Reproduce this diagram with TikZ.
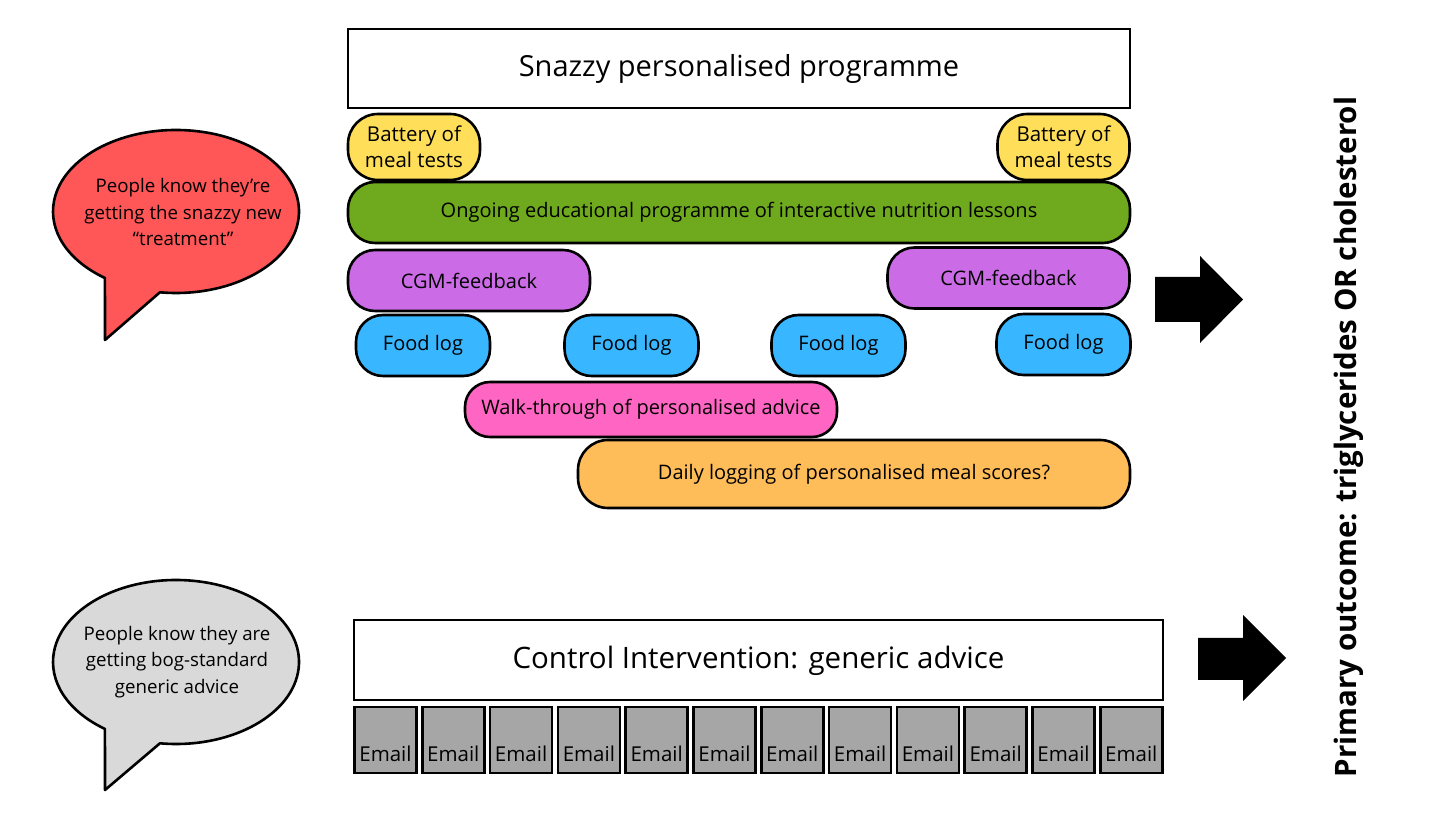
\documentclass[tikz,border=0pt]{standalone}
\usepackage{fontspec}
\setmainfont{Open Sans}
\usepackage{tikz}
\usetikzlibrary{positioning}
\definecolor{TalkRed}{HTML}{FF5757}
\definecolor{TalkGrey}{HTML}{D9D9D9}
\definecolor{TestYellow}{HTML}{FFDE59}
\definecolor{LessonGreen}{HTML}{6FAA1E}
\definecolor{CgmPurple}{HTML}{CB6CE6}
\definecolor{LogBlue}{HTML}{38B6FF}
\definecolor{AdvicePink}{HTML}{FF66C4}
\definecolor{ScoreOrange}{HTML}{FFBD59}
\definecolor{MailGrey}{HTML}{A6A6A6}

\begin{document}
\begin{tikzpicture}[x=1pt,y=1pt,
  pill/.style={draw=black,line width=2.6pt,rounded corners=27pt,minimum height=61pt,inner sep=0pt,align=center,font=\fontsize{20}{26}\selectfont},
  tests/.style={pill,fill=TestYellow,minimum width=132pt,minimum height=66pt,rounded corners=30pt,font=\fontsize{20.5}{26}\selectfont},
  lessons/.style={pill,fill=LessonGreen,minimum width=782pt},
  cgm/.style={pill,fill=CgmPurple,minimum width=242pt},
  foodlog/.style={pill,fill=LogBlue,minimum width=134pt},
  banner/.style={draw=black,line width=2.2pt,fill=white,inner sep=0pt,text height=23pt,text depth=6pt,font=\fontsize{29.5}{34}\selectfont},
  mailbox/.style={draw=black,line width=2.6pt,fill=MailGrey,minimum width=62pt,inner sep=0pt,text height=55pt,text depth=11pt,font=\fontsize{20.5}{24}\selectfont},
  bubble/.style={draw=black,line width=2.6pt,line join=round},
  saying/.style={align=center,font=\fontsize{18.7}{26.5}\selectfont},
  bigarrow/.style={fill=black}
]
  \useasboundingbox (0,0) rectangle (1456,819);

  % speech bubbles
  \coordinate (redc) at (176,607.5);
  \path[bubble,fill=TalkRed] ([shift={(262.5:123 and 81.5)}]redc)
    arc[start angle=262.5,end angle=594.7,x radius=123,y radius=81.5] -- (105,479) -- cycle;
  \node[saying] (knowsnew) at (183,607) {People know they're\\getting the snazzy new\\``treatment''};
  \coordinate (greyc) at (176,157);
  \path[bubble,fill=TalkGrey] ([shift={(262.5:123 and 82)}]greyc)
    arc[start angle=262.5,end angle=594.7,x radius=123,y radius=82] -- (105,29) -- cycle;
  \node[saying] (knowsgeneric) at (177,157) {People know they are\\getting bog-standard\\generic advice};

  % personalised arm
  \node[banner,minimum width=782pt,minimum height=79pt,font=\fontsize{29}{34}\selectfont] (snazzy) at (739,750.5) {Snazzy personalised programme};
  \node[tests] (testsL) at (414,672) {Battery of\\meal tests};
  \node[tests] (testsR) at (1063.5,672) {Battery of\\meal tests};
  \node[lessons] (lessons) at (739,606.5) {Ongoing educational programme of interactive nutrition lessons};
  \node[cgm] (cgmL) at (469,538.5) {CGM-feedback};
  \node[cgm] (cgmR) at (1008.5,541) {CGM-feedback};
  \node[foodlog] (logA) at (423,473.5) {Food log};
  \node[foodlog] (logB) at (631.5,473.5) {Food log};
  \node[foodlog] (logC) at (838.5,473.5) {Food log};
  \node[foodlog] (logD) at (1063.5,474.5) {Food log};
  \node[pill,fill=AdvicePink,minimum width=372pt,minimum height=55pt,rounded corners=25pt] (walk) at (651,409.5) {Walk-through of personalised advice};
  \node[pill,fill=ScoreOrange,minimum width=552pt,minimum height=68pt,rounded corners=30pt] (scores) at (854,345) {Daily logging of personalised meal scores?};

  % control arm
  \node[banner,minimum width=809pt,minimum height=80pt] (control) at (758.5,159) {Control Intervention: generic advice};
  \foreach \i in {0,...,11}
    \node[mailbox] (mail\i) at (385.5+67.8*\i,79) {Email};

  % outcome
  \fill[bigarrow] (1155,542) -- (1200,542) -- (1200,563) -- (1243,519.5) -- (1200,476) -- (1200,497) -- (1155,497) -- cycle;
  \fill[bigarrow] (1198,181) -- (1243,181) -- (1243,204) -- (1286,161) -- (1243,118) -- (1243,139) -- (1198,139) -- cycle;
  \node[rotate=90,font=\fontsize{29.5}{34}\selectfont\bfseries] (outcome) at (1349,382) {Primary outcome: triglycerides OR cholesterol};
\end{tikzpicture}
\end{document}
